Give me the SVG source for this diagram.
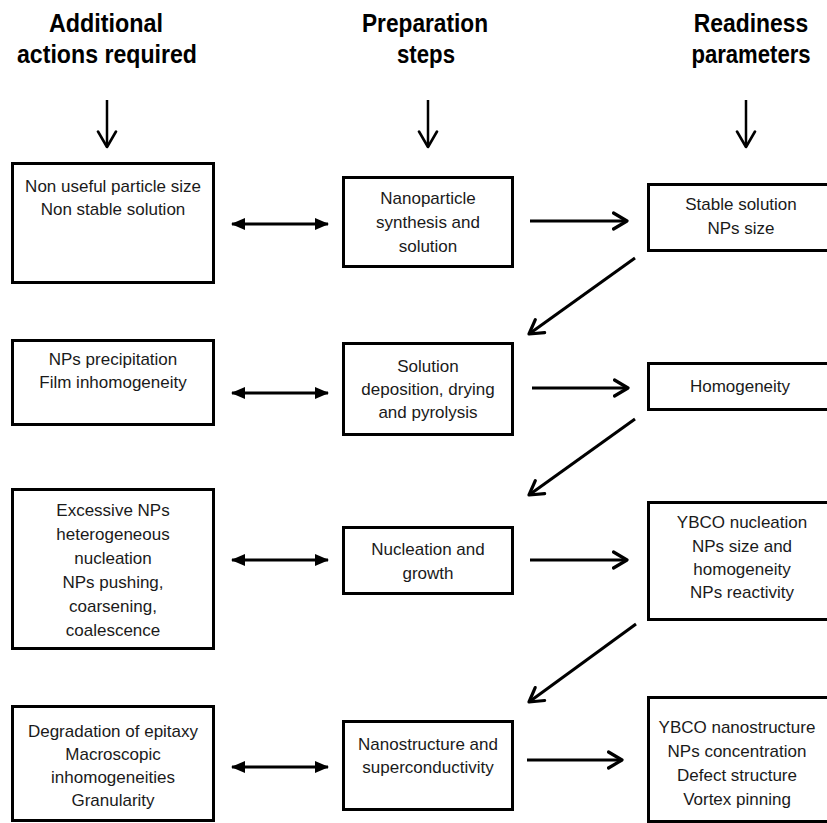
<svg xmlns="http://www.w3.org/2000/svg" width="827" height="823" viewBox="0 0 827 823">
<style>
.bg{fill:#fff}
.box{fill:#fff;stroke:#000;stroke-width:3}
.t{font-family:"Liberation Sans",Arial,sans-serif;font-size:17px;fill:#1a1a1a;text-anchor:middle}
.h{font-family:"Liberation Sans",Arial,sans-serif;font-size:26px;font-weight:bold;fill:#000;text-anchor:middle}
.dbl{stroke:#000;stroke-width:3;fill:none;marker-start:url(#tri);marker-end:url(#tri)}
.fw{stroke:#000;stroke-width:3;fill:none;marker-end:url(#vee)}
.dg{stroke:#000;stroke-width:3;fill:none;marker-end:url(#vee)}
.top{stroke:#000;stroke-width:2.5;fill:none;marker-end:url(#veeT)}
</style>
<defs>
<marker id="tri" markerUnits="userSpaceOnUse" viewBox="0 0 14 12" refX="13" refY="6" markerWidth="14" markerHeight="12" orient="auto-start-reverse">
<path d="M0,0 L14,6 L0,12 Z" fill="#000"/>
</marker>
<marker id="vee" markerUnits="userSpaceOnUse" viewBox="0 0 18 20" refX="15.5" refY="10" markerWidth="18" markerHeight="20" orient="auto">
<path d="M2,2 L15.5,10 L2,18" fill="none" stroke="#000" stroke-width="3.2" stroke-linecap="round" stroke-linejoin="round"/>
</marker>
<marker id="veeT" markerUnits="userSpaceOnUse" viewBox="0 0 20 22" refX="17.5" refY="11" markerWidth="20" markerHeight="22" orient="auto">
<path d="M2,2 L17.5,11 L2,20" fill="none" stroke="#000" stroke-width="2.6" stroke-linecap="round" stroke-linejoin="round"/>
</marker>
</defs>
<rect class="bg" x="0" y="0" width="827" height="823"/>

<g id="headers">
<g id="h-additional">
<text class="h" x="106" y="32" textLength="114" lengthAdjust="spacingAndGlyphs">Additional</text>
<text class="h" x="107" y="63" textLength="180" lengthAdjust="spacingAndGlyphs">actions required</text>
</g>
<g id="h-preparation">
<text class="h" x="425" y="32" textLength="126" lengthAdjust="spacingAndGlyphs">Preparation</text>
<text class="h" x="426" y="63" textLength="58" lengthAdjust="spacingAndGlyphs">steps</text>
</g>
<g id="h-readiness">
<text class="h" transform="translate(751,32) scale(0.88,1)" x="0" y="0">Readiness</text>
<text class="h" transform="translate(751,63) scale(0.85,1)" x="0" y="0">parameters</text>
</g>
</g>

<g id="node-L1">
<rect class="box" x="12.5" y="163.5" width="201" height="119"/>
<text class="t" x="113" y="192">Non useful particle size</text>
<text class="t" x="113" y="215">Non stable solution</text>
</g>
<g id="node-M1">
<rect class="box" x="343.5" y="177.5" width="169" height="89"/>
<text class="t" x="428" y="204">Nanoparticle</text>
<text class="t" x="428" y="228">synthesis and</text>
<text class="t" x="428" y="252">solution</text>
</g>
<g id="node-R1">
<rect class="box" x="648.5" y="184.5" width="200" height="66"/>
<text class="t" x="741" y="210">Stable solution</text>
<text class="t" x="741" y="234">NPs size</text>
</g>

<g id="node-L2">
<rect class="box" x="12.5" y="340.5" width="201" height="84"/>
<text class="t" x="113" y="365">NPs precipitation</text>
<text class="t" x="113" y="388">Film inhomogeneity</text>
</g>
<g id="node-M2">
<rect class="box" x="343.5" y="343.5" width="169" height="91"/>
<text class="t" x="428" y="372">Solution</text>
<text class="t" x="428" y="395">deposition, drying</text>
<text class="t" x="428" y="418">and pyrolysis</text>
</g>
<g id="node-R2">
<rect class="box" x="648.5" y="363.5" width="200" height="46"/>
<text class="t" x="740" y="392">Homogeneity</text>
</g>

<g id="node-L3">
<rect class="box" x="12.5" y="489.5" width="201" height="159"/>
<text class="t" x="113" y="516">Excessive NPs</text>
<text class="t" x="113" y="540">heterogeneous</text>
<text class="t" x="113" y="564">nucleation</text>
<text class="t" x="113" y="588">NPs pushing,</text>
<text class="t" x="113" y="612">coarsening,</text>
<text class="t" x="113" y="636">coalescence</text>
</g>
<g id="node-M3">
<rect class="box" x="343.5" y="527.5" width="169" height="66"/>
<text class="t" x="428" y="555">Nucleation and</text>
<text class="t" x="428" y="579">growth</text>
</g>
<g id="node-R3">
<rect class="box" x="648.5" y="502.5" width="200" height="117"/>
<text class="t" x="742" y="528">YBCO nucleation</text>
<text class="t" x="742" y="552">NPs size and</text>
<text class="t" x="742" y="575">homogeneity</text>
<text class="t" x="742" y="598">NPs reactivity</text>
</g>

<g id="node-L4">
<rect class="box" x="12.5" y="706.5" width="201" height="114"/>
<text class="t" x="113" y="737">Degradation of epitaxy</text>
<text class="t" x="113" y="760">Macroscopic</text>
<text class="t" x="113" y="783">inhomogeneities</text>
<text class="t" x="113" y="806">Granularity</text>
</g>
<g id="node-M4">
<rect class="box" x="343.5" y="721.5" width="169" height="88"/>
<text class="t" x="428" y="750">Nanostructure and</text>
<text class="t" x="428" y="773">superconductivity</text>
</g>
<g id="node-R4">
<rect class="box" x="648.5" y="697.5" width="200" height="124"/>
<text class="t" x="737" y="733">YBCO nanostructure</text>
<text class="t" x="737" y="757">NPs concentration</text>
<text class="t" x="737" y="781">Defect structure</text>
<text class="t" x="737" y="805">Vortex pinning</text>
</g>

<g id="connectors">
<line class="top" x1="107" y1="100" x2="107" y2="147"/>
<line class="top" x1="428" y1="100" x2="428" y2="147"/>
<line class="top" x1="746" y1="100" x2="746" y2="147"/>

<line class="dbl" x1="232" y1="224" x2="328" y2="224"/>
<line class="dbl" x1="232" y1="393" x2="328" y2="393"/>
<line class="dbl" x1="232" y1="560" x2="328" y2="560"/>
<line class="dbl" x1="232" y1="767" x2="328" y2="767"/>

<line class="fw" x1="530" y1="221" x2="627" y2="221"/>
<line class="fw" x1="532" y1="388" x2="628" y2="388"/>
<line class="fw" x1="530" y1="560" x2="627" y2="560"/>
<line class="fw" x1="527" y1="760" x2="622" y2="760"/>

<line class="dg" x1="635" y1="258" x2="529" y2="334"/>
<line class="dg" x1="635" y1="419" x2="529" y2="495"/>
<line class="dg" x1="636" y1="624" x2="529" y2="702"/>
</g>
</svg>
